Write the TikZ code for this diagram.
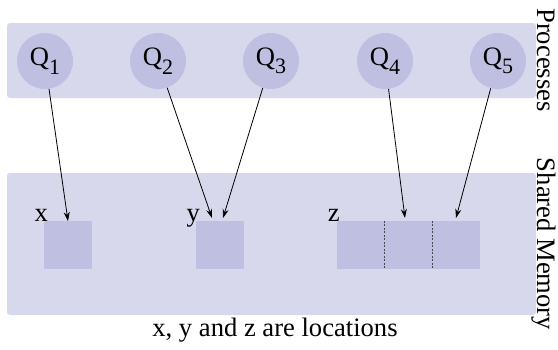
\documentclass[tikz,border=0pt]{standalone}
\usepackage{fontspec}
\setmainfont{Liberation Serif}
\usetikzlibrary{arrows.meta}
\definecolor{bandcol}{RGB}{216,216,236}
\definecolor{boxcol}{RGB}{191,191,225}
\definecolor{divcol}{RGB}{70,70,80}
\newcommand{\qsub}[1]{\raisebox{-8.5pt}{\fontsize{22}{26}\selectfont #1}}
\begin{document}
\begin{tikzpicture}[x=1pt,y=-1pt,
  every node/.style={font=\fontsize{26.6}{31}\selectfont},
  band/.style={fill=bandcol, rounded corners=3pt},
  proc/.style={circle, fill=boxcol, minimum size=56pt, inner sep=0pt},
  cell/.style={fill=boxcol, minimum width=47.7pt, minimum height=48pt, inner sep=0pt},
  lbl/.style={anchor=base east, inner sep=0pt},
  arr/.style={-{Stealth[length=9pt,width=6pt]}, line width=0.8pt},
  divider/.style={draw=divcol, line width=0.8pt, dash pattern=on 2pt off 1.5pt}]
\useasboundingbox (0,0) rectangle (558,349);
% bands
\fill[band] (7,23) rectangle (536,98);
\fill[band] (7,173) rectangle (536,315);
% processes
\node[proc] (q1) at (45,61) {Q\qsub{1}};
\node[proc] (q2) at (158,61) {Q\qsub{2}};
\node[proc] (q3) at (271,61) {Q\qsub{3}};
\node[proc] (q4) at (385,61) {Q\qsub{4}};
\node[proc] (q5) at (498,61) {Q\qsub{5}};
% memory cells
\node[cell, minimum width=48pt] (x) at (68,245) {};
\node[cell, minimum width=48pt] (y) at (220,245) {};
\node[cell] (z1) at (360.8,245) {};
\node[cell] (z2) at (408.5,245) {};
\node[cell] (z3) at (456.2,245) {};
\draw[divider] (z1.north east) -- (z1.south east);
\draw[divider] (z2.north east) -- (z2.south east);
% labels
\node[lbl] (xl) at (48,221) {x};
\node[lbl] (yl) at (200,221) {y};
\node[lbl] (zl) at (340,221) {z};
% arrow targets
\coordinate (tx) at (68,221);
\coordinate (ty2) at (212,218);
\coordinate (ty3) at (223,218);
\coordinate (tz2) at (405,218);
\coordinate (tz3) at (456,218);
\draw[arr] (q1) -- (tx);
\draw[arr] (q2) -- (ty2);
\draw[arr] (q3) -- (ty3);
\draw[arr] (q4) -- (tz2);
\draw[arr] (q5) -- (tz3);
% side labels
\node[rotate=-90, anchor=base, inner sep=0pt] (plab) at (537.5,60) {Processes};
\node[rotate=-90, anchor=base, inner sep=0pt] (mlab) at (537.5,244) {Shared Memory};
% caption
\node[anchor=base, inner sep=0pt] (cap) at (275,336) {x, y and z are locations};
\end{tikzpicture}
\end{document}
